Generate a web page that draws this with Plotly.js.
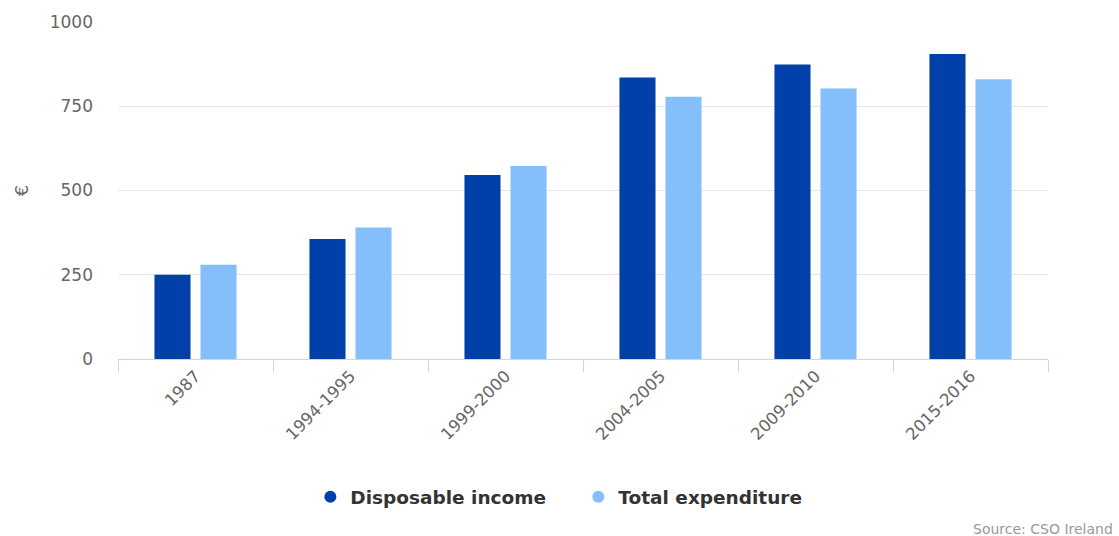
<!DOCTYPE html>
<html>
<head>
<meta charset="utf-8">
<script src="https://cdn.plot.ly/plotly-3.0.1.min.js"></script>
<style>html,body{margin:0;padding:0;background:#fff;}#chart{width:1119px;height:536px;}</style>
</head>
<body>
<div id="chart"></div>
<script>
const categories = ["1987", "1994-1995", "1999-2000", "2004-2005", "2009-2010", "2015-2016"];
const disposableIncome = [250, 356, 546, 835, 874, 905];
const totalExpenditure = [280, 390, 573, 778, 803, 830];
const seriesNames = ["Disposable income", "Total expenditure"];
const yTicks = [0, 250, 500, 750, 1000];
const colors = ["#0040a8", "#85bffb"];

const font = "'DejaVu Sans', Verdana, sans-serif";

const traces = [
  {type: "bar", x: categories, y: disposableIncome, name: seriesNames[0],
   marker: {color: colors[0]}, showlegend: false},
  {type: "bar", x: categories, y: totalExpenditure, name: seriesNames[1],
   marker: {color: colors[1]}, showlegend: false},
  {type: "scatter", mode: "markers", x: [null], y: [null], name: seriesNames[0],
   marker: {color: colors[0], size: 18, symbol: "circle"}, hoverinfo: "skip"},
  {type: "scatter", mode: "markers", x: [null], y: [null], name: seriesNames[1],
   marker: {color: colors[1], size: 18, symbol: "circle"}, hoverinfo: "skip"}
];

const layout = {
  width: 1119, height: 536,
  margin: {l: 118, r: 71, t: 22, b: 177},
  paper_bgcolor: "#fff", plot_bgcolor: "#fff",
  font: {family: font, color: "#666"},
  barmode: "group",
  bargap: 0.406,
  bargroupgap: 0.217,
  xaxis: {
    type: "category",
    tickangle: -45,
    tickson: "boundaries",
    ticks: "outside", ticklen: 12, tickcolor: "#ccd6eb", tickwidth: 1,
    showline: true, linecolor: "#ccd6eb", linewidth: 1,
    showgrid: false, zeroline: false,
    tickfont: {size: 16.5, color: "#666"},
    fixedrange: true
  },
  yaxis: {
    range: [0, 1000],
    tickvals: yTicks,
    ticktext: yTicks.map(String),
    showgrid: true, gridcolor: "#e6e6e6", gridwidth: 1,
    zeroline: false, showline: false,
    ticks: "", ticklabelstandoff: 24,
    tickfont: {size: 17, color: "#666"},
    title: {text: "€", font: {size: 18, color: "#666"}, standoff: 16},
    fixedrange: true
  },
  showlegend: true,
  legend: {
    orientation: "h",
    x: 0.495, xanchor: "center",
    y: -0.41, yanchor: "middle",
    font: {size: 18.5, color: "#333", family: font, weight: "bold"},
    itemsizing: "constant",
    itemwidth: 30,
    entrywidth: 223, entrywidthmode: "pixels"
  },
  annotations: [{
    text: "Source: CSO Ireland",
    xref: "paper", yref: "paper",
    x: 1.072, y: -0.504, xanchor: "right", yanchor: "middle",
    showarrow: false,
    font: {size: 14, color: "#999", family: font}
  }]
};

Plotly.newPlot("chart", traces, layout, {displayModeBar: false, staticPlot: true});
</script>
</body>
</html>
